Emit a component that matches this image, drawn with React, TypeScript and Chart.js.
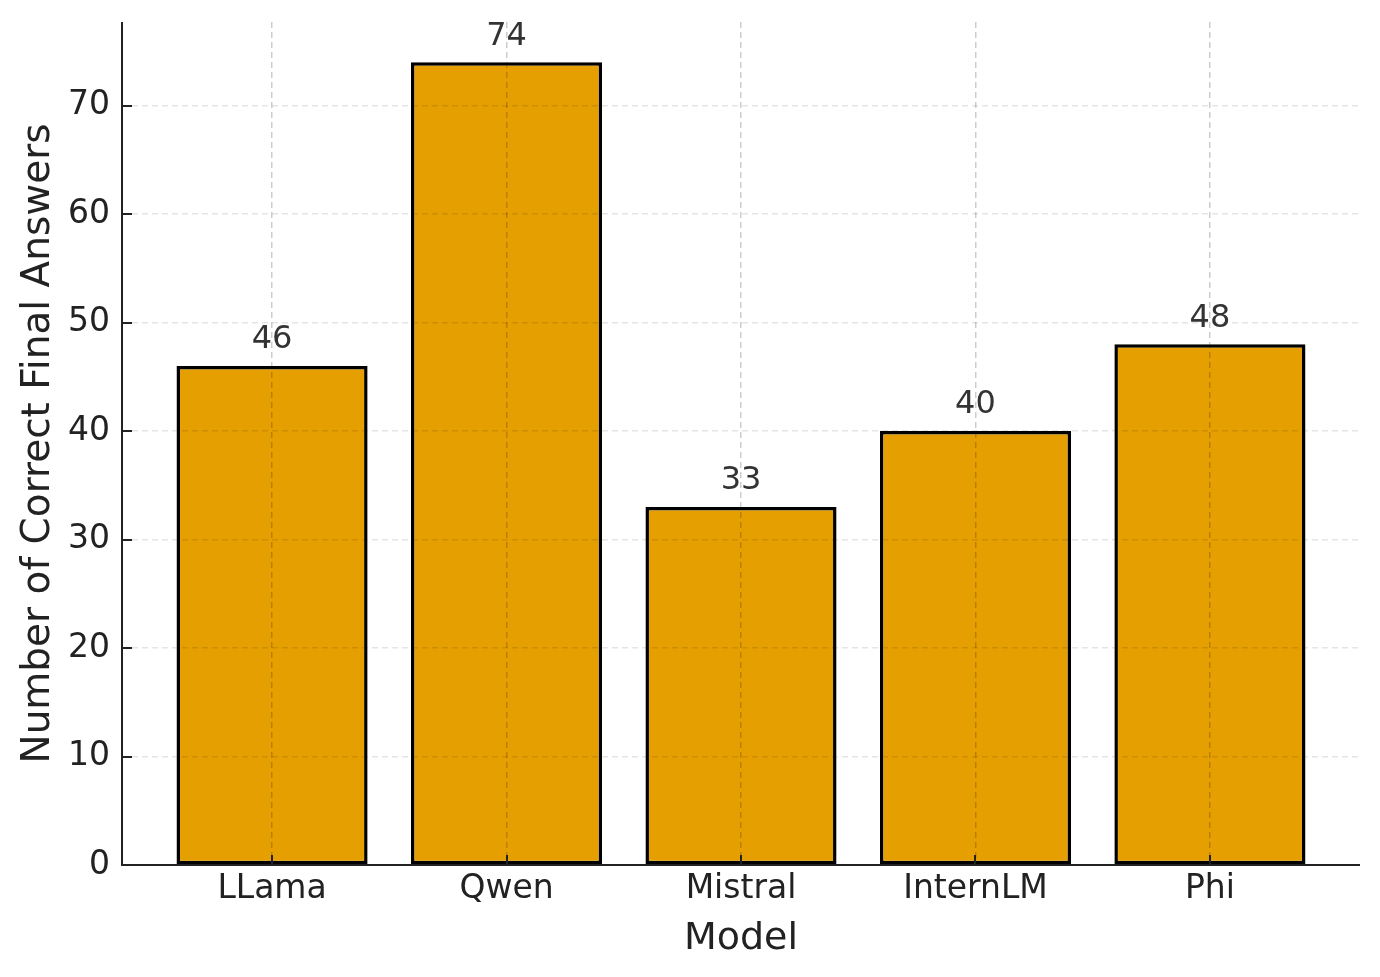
import React, { useEffect, useRef } from "react";
import { Chart, registerables } from "chart.js";

Chart.register(...registerables);

const categories = ["LLama", "Qwen", "Mistral", "InternLM", "Phi"];
const correctAnswers = [46, 74, 33, 40, 48];
const yTickValues = [0, 10, 20, 30, 40, 50, 60, 70];
const yAxisMax = 77.7;

const FONT = "'DejaVu Sans', sans-serif";

const spinesAndTicks = {
  id: "spinesAndTicks",
  afterDraw(chart: any) {
    const { ctx, chartArea, scales } = chart;
    ctx.save();
    ctx.strokeStyle = "#222";
    ctx.lineWidth = 2;
    ctx.setLineDash([]);
    ctx.beginPath();
    ctx.moveTo(chartArea.left, chartArea.top);
    ctx.lineTo(chartArea.left, chartArea.bottom);
    ctx.lineTo(chartArea.right, chartArea.bottom);
    scales.x.ticks.forEach((t: any) => {
      const px = Math.round(scales.x.getPixelForValue(t.value));
      ctx.moveTo(px, chartArea.bottom);
      ctx.lineTo(px, chartArea.bottom - 10);
    });
    scales.y.ticks.forEach((t: any) => {
      const py = Math.round(scales.y.getPixelForValue(t.value));
      ctx.moveTo(chartArea.left, py);
      ctx.lineTo(chartArea.left + 10, py);
    });
    ctx.stroke();
    ctx.restore();
  },
};

const valueLabels = {
  id: "valueLabels",
  afterDraw(chart: any) {
    const { ctx, scales } = chart;
    ctx.save();
    ctx.fillStyle = "#333";
    ctx.font = `32px ${FONT}`;
    ctx.textAlign = "center";
    ctx.textBaseline = "bottom";
    correctAnswers.forEach((v, i) => {
      const x = scales.x.getPixelForValue(i);
      const y = scales.y.getPixelForValue(v + 1);
      ctx.fillText(String(v), x, y + 1);
    });
    ctx.restore();
  },
};

export default function App() {
  const canvasRef = useRef<HTMLCanvasElement | null>(null);

  useEffect(() => {
    if (!canvasRef.current) return;
    const chart = new Chart(canvasRef.current, {
      type: "bar",
      data: {
        datasets: [
          {
            data: correctAnswers.map((v, i) => ({ x: i, y: v })),
            backgroundColor: "#E69F00",
            borderColor: "#000",
            borderWidth: 3.5,
            borderSkipped: false,
            categoryPercentage: 1,
            barPercentage: 0.815,
          },
        ],
      },
      options: {
        animation: false,
        responsive: true,
        maintainAspectRatio: false,
        layout: { padding: { top: 22, right: 20, left: 0, bottom: 0 } },
        plugins: {
          legend: { display: false },
          tooltip: { enabled: false },
        },
        scales: {
          x: {
            type: "linear",
            min: -0.64,
            max: 4.64,
            offset: false,
            afterBuildTicks(scale: any) {
              scale.ticks = categories.map((_, i) => ({ value: i }));
            },
            afterFit(scale: any) {
              scale.height = 112;
              scale.paddingLeft = 0;
              scale.paddingRight = 0;
            },
            ticks: {
              callback: (v: any) => categories[Math.round(Number(v))] ?? "",
              font: { family: FONT, size: 33 },
              color: "#222",
              padding: 5,
              maxRotation: 0,
              autoSkip: false,
            },
            grid: {
              z: 1,
              offset: false,
              drawTicks: false,
              color: "rgba(0,0,0,0.2)",
              lineWidth: 1.5,
            },
            border: { display: false, dash: [6, 4] },
            title: {
              display: true,
              text: "Model",
              font: { family: FONT, size: 38 },
              color: "#222",
              padding: { top: 0, bottom: 15 },
            },
          },
          y: {
            type: "linear",
            min: 0,
            max: yAxisMax,
            afterBuildTicks(scale: any) {
              scale.ticks = yTickValues.map((v) => ({ value: v }));
            },
            afterFit(scale: any) {
              scale.width = 122;
              scale.paddingTop = 0;
              scale.paddingBottom = 0;
            },
            ticks: {
              font: { family: FONT, size: 33 },
              color: "#222",
              padding: 12,
            },
            grid: {
              z: 1,
              drawTicks: false,
              color: "rgba(0,0,0,0.1)",
              lineWidth: 1.5,
            },
            border: { display: false, dash: [6, 4] },
            title: {
              display: true,
              text: "Number of Correct Final Answers",
              font: { family: FONT, size: 39 },
              color: "#222",
              padding: { top: 15, bottom: 0 },
            },
          },
        },
      },
      plugins: [spinesAndTicks, valueLabels],
    } as any);
    return () => chart.destroy();
  }, []);

  return (
    <div style={{ position: "absolute", left: 0, top: 0, width: 1380, height: 977, background: "#fff" }}>
      <canvas ref={canvasRef} />
    </div>
  );
}
